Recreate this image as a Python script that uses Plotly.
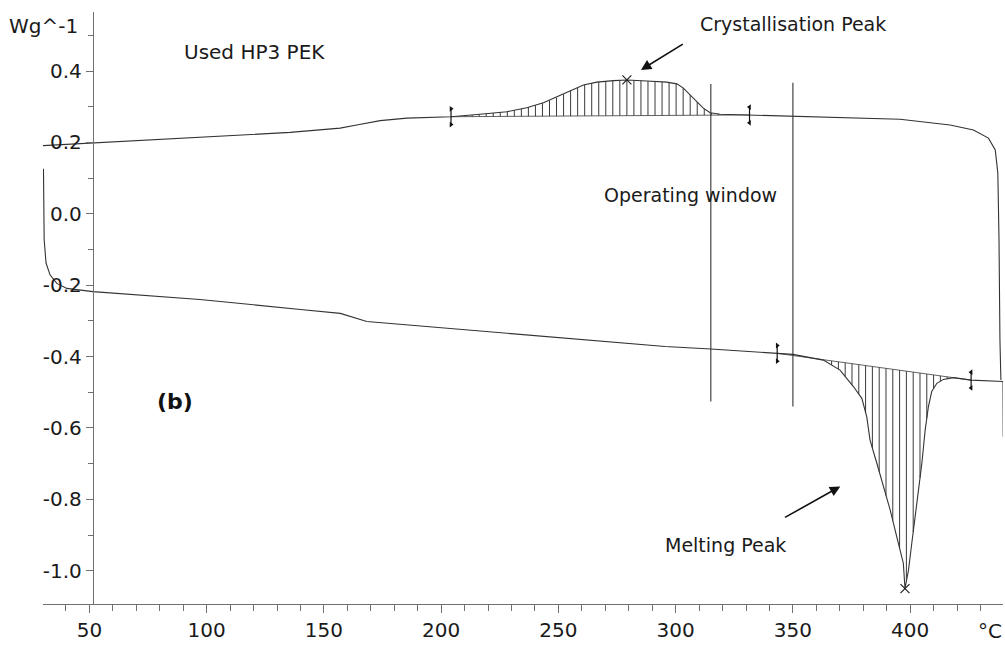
import numpy as np
import plotly.graph_objects as go

# Heating run (lower trace): temperature in °C, heat flow in W/g
heat_T = [30.4, 30.7, 31.5, 33.2, 36.1, 40.4, 51.5, 97.1, 140.0, 157.0, 168.3,
          295.5, 315.0, 343.3, 350.0, 363.0, 370.1, 375.8, 379.4, 381.5, 382.9,
          385.8, 388.6, 391.5, 394.3, 397.1, 397.8, 399.3, 400.7, 402.8, 405.0,
          406.4, 407.8, 409.2, 411.4, 414.2, 418.5, 426.0, 439.6, 439.7]
heat_v = [0.126, -0.073, -0.138, -0.171, -0.195, -0.209, -0.218, -0.240, -0.268,
          -0.279, -0.302, -0.372, -0.379, -0.391, -0.394, -0.410, -0.438, -0.484,
          -0.517, -0.569, -0.634, -0.699, -0.765, -0.830, -0.905, -0.979, -1.050,
          -0.998, -0.923, -0.811, -0.699, -0.606, -0.540, -0.498, -0.475, -0.464,
          -0.459, -0.466, -0.470, -0.625]

# Cooling run (upper trace), recorded from high to low temperature
cool_T = [438.7, 438.3, 437.9, 437.4, 436.3, 433.4, 427.0, 417.0, 395.7, 365.9,
          353.1, 331.5, 319.0, 314.7, 311.8, 309.0, 306.2, 303.3, 300.5, 296.2,
          287.7, 279.2, 273.5, 266.4, 260.7, 255.0, 249.3, 243.6, 236.5, 228.0,
          216.6, 204.2, 185.4, 174.0, 164.0, 156.9, 135.6, 93.0, 51.5, 30.2]
cool_v = [-0.466, -0.354, -0.073, 0.114, 0.179, 0.212, 0.235, 0.249, 0.265, 0.270,
          0.274, 0.277, 0.279, 0.283, 0.296, 0.314, 0.333, 0.352, 0.364, 0.369,
          0.372, 0.375, 0.373, 0.369, 0.361, 0.344, 0.326, 0.311, 0.297, 0.286,
          0.279, 0.272, 0.268, 0.261, 0.249, 0.240, 0.228, 0.213, 0.1975, 0.191]

# Integration limits (T, W/g) for the two evaluated peaks
cryst_limits_T = [204.2, 331.5]
cryst_limits_v = [0.272, 0.277]
melt_limits_T = [343.3, 426.0]
melt_limits_v = [-0.391, -0.466]

# Peak maxima
peak_T = [279.2, 397.8]
peak_v = [0.375, -1.050]

# Operating window boundaries
window_T = [315.0, 350.0]
window_top = [0.364, 0.367]
window_bottom = [-0.526, -0.540]

# Axis ticks
x_major = [50, 100, 150, 200, 250, 300, 350, 400]
x_labels = ["50", "100", "150", "200", "250", "300", "350", "400"]
y_major = [0.4, 0.2, 0.0, -0.2, -0.4, -0.6, -0.8, -1.0]
y_labels = ["0.4", "0.2", "0.0", "-0.2", "-0.4", "-0.6", "-0.8", "-1.0"]

X_RANGE = [30.2, 439.6]
Y_RANGE = [-1.0933, 0.5654]
Y_AXIS_AT = 51.45

FONT = "DejaVu Sans"
CURVE = "#333333"
AXIS = "#707070"
HATCH = "#3a3a3a"


def hatch_lines(curve_T, curve_v, lim_T, lim_v, step):
    """Vertical hatch strokes between a straight baseline and the curve."""
    order = np.argsort(curve_T)
    cT = np.asarray(curve_T)[order]
    cv = np.asarray(curve_v)[order]
    xs, ys = [], []
    for t in np.arange(lim_T[0] + step, lim_T[1], step):
        base = np.interp(t, lim_T, lim_v)
        top = np.interp(t, cT, cv)
        if abs(top - base) < 0.003:
            continue
        xs += [t, t, None]
        ys += [base, top, None]
    return xs, ys


fig = go.Figure()

# Hatched peak areas
cx, cy = hatch_lines(cool_T[10:33], cool_v[10:33], cryst_limits_T, cryst_limits_v, 3.0)
mx, my = hatch_lines(heat_T[12:39], heat_v[12:39], melt_limits_T, melt_limits_v, 2.9)
fig.add_trace(go.Scatter(x=cx + mx, y=cy + my, mode="lines",
                         line=dict(color=HATCH, width=1), hoverinfo="skip"))

# Baselines of the evaluated peaks
for lt, lv in ((cryst_limits_T, cryst_limits_v), (melt_limits_T, melt_limits_v)):
    fig.add_trace(go.Scatter(x=lt, y=lv, mode="lines",
                             line=dict(color=HATCH, width=0.8), hoverinfo="skip"))

# DSC curves
fig.add_trace(go.Scatter(x=heat_T, y=heat_v, mode="lines",
                         line=dict(color=CURVE, width=1.1)))
fig.add_trace(go.Scatter(x=cool_T, y=cool_v, mode="lines",
                         line=dict(color=CURVE, width=1.1)))

# Operating window lines
for t, top, bot in zip(window_T, window_top, window_bottom):
    fig.add_trace(go.Scatter(x=[t, t], y=[top, bot], mode="lines",
                             line=dict(color="#333333", width=1.1)))

# Integration limit markers
tick_h = 0.022
for lt, lv in ((cryst_limits_T, cryst_limits_v), (melt_limits_T, melt_limits_v)):
    for i, (t, v) in enumerate(zip(lt, lv)):
        fig.add_trace(go.Scatter(x=[t, t], y=[v - tick_h, v + tick_h], mode="lines",
                                 line=dict(color="#111111", width=1.2)))
        sym = "triangle-right" if i == 0 else "triangle-left"
        fig.add_trace(go.Scatter(x=[t, t], y=[v - tick_h, v + tick_h], mode="markers",
                                 marker=dict(symbol=sym, size=5, color="#111111")))

# Peak maxima
fig.add_trace(go.Scatter(x=peak_T, y=peak_v, mode="markers",
                         marker=dict(symbol="x-thin", size=9,
                                     line=dict(color="#222222", width=1.2))))

text_font = dict(family=FONT, size=19, color="#1a1a1a")

annotations = [
    dict(x=46.0, y=0.526, text="Wg^-1", xanchor="right", yanchor="middle", showarrow=False,
         font=dict(family=FONT, size=20, color="#1a1a1a")),
    dict(x=89.5, y=0.4547, text="Used HP3 PEK", xanchor="left", yanchor="middle", showarrow=False,
         font=dict(family=FONT, size=20, color="#1a1a1a")),
    dict(x=309.6, y=0.532, text="Crystallisation Peak", xanchor="left", yanchor="middle", showarrow=False),
    dict(x=344.2, y=0.0516, text="Operating window", xanchor="right", yanchor="middle", showarrow=False),
    dict(x=348.1, y=-0.928, text="Melting Peak", xanchor="right", yanchor="middle", showarrow=False),
    dict(x=86.5, y=-0.525, text="<b>(b)</b>", xanchor="center", yanchor="middle", showarrow=False,
         font=dict(family=FONT, size=22, color="#111111")),
    # arrows pointing at the two peaks
    dict(x=285.2, y=0.403, ax=303.7, ay=0.478, axref="x", ayref="y", text="",
         showarrow=True, arrowhead=2, arrowsize=1.3, arrowwidth=1.6, arrowcolor="#111111"),
    dict(x=370.2, y=-0.764, ax=346.0, ay=-0.853, axref="x", ayref="y", text="",
         showarrow=True, arrowhead=2, arrowsize=1.3, arrowwidth=1.6, arrowcolor="#111111"),
]
for a in annotations:
    a.setdefault("font", text_font)
    a["xref"] = "x"
    a["yref"] = "y"

# unit label of the temperature axis, below the plotting area
annotations.append(dict(x=434.1, y=-0.045, xref="x", yref="paper", text="°C",
                        xanchor="center", yanchor="middle", showarrow=False,
                        font=dict(family=FONT, size=20, color="#1a1a1a")))

fig.update_layout(
    width=1005, height=646,
    margin=dict(l=43, r=2, t=12, b=42),
    paper_bgcolor="white", plot_bgcolor="white",
    showlegend=False,
    annotations=annotations,
    font=dict(family=FONT, size=20, color="#1a1a1a"),
    xaxis=dict(
        range=X_RANGE, domain=[0, 1],
        showgrid=False, zeroline=False,
        showline=True, linecolor=AXIS, linewidth=1.2,
        ticks="outside", ticklen=8, tickcolor=AXIS, tickwidth=1,
        tickvals=x_major, ticktext=x_labels,
        tickfont=dict(family=FONT, size=20, color="#1a1a1a"),
        minor=dict(dtick=10, tick0=0, ticks="outside", ticklen=6,
                   tickcolor=AXIS, tickwidth=1, showgrid=False),
    ),
    yaxis=dict(
        range=Y_RANGE, anchor="free",
        position=(Y_AXIS_AT - X_RANGE[0]) / (X_RANGE[1] - X_RANGE[0]),
        showgrid=False, zeroline=False,
        showline=True, linecolor=AXIS, linewidth=1.2,
        ticks="outside", ticklen=7, tickcolor=AXIS, tickwidth=1,
        tickvals=y_major, ticktext=y_labels,
        tickfont=dict(family=FONT, size=20, color="#1a1a1a"),
        minor=dict(dtick=0.1, tick0=0, ticks="outside", ticklen=5,
                   tickcolor=AXIS, tickwidth=1, showgrid=False),
    ),
)

fig.write_html("out.html")
